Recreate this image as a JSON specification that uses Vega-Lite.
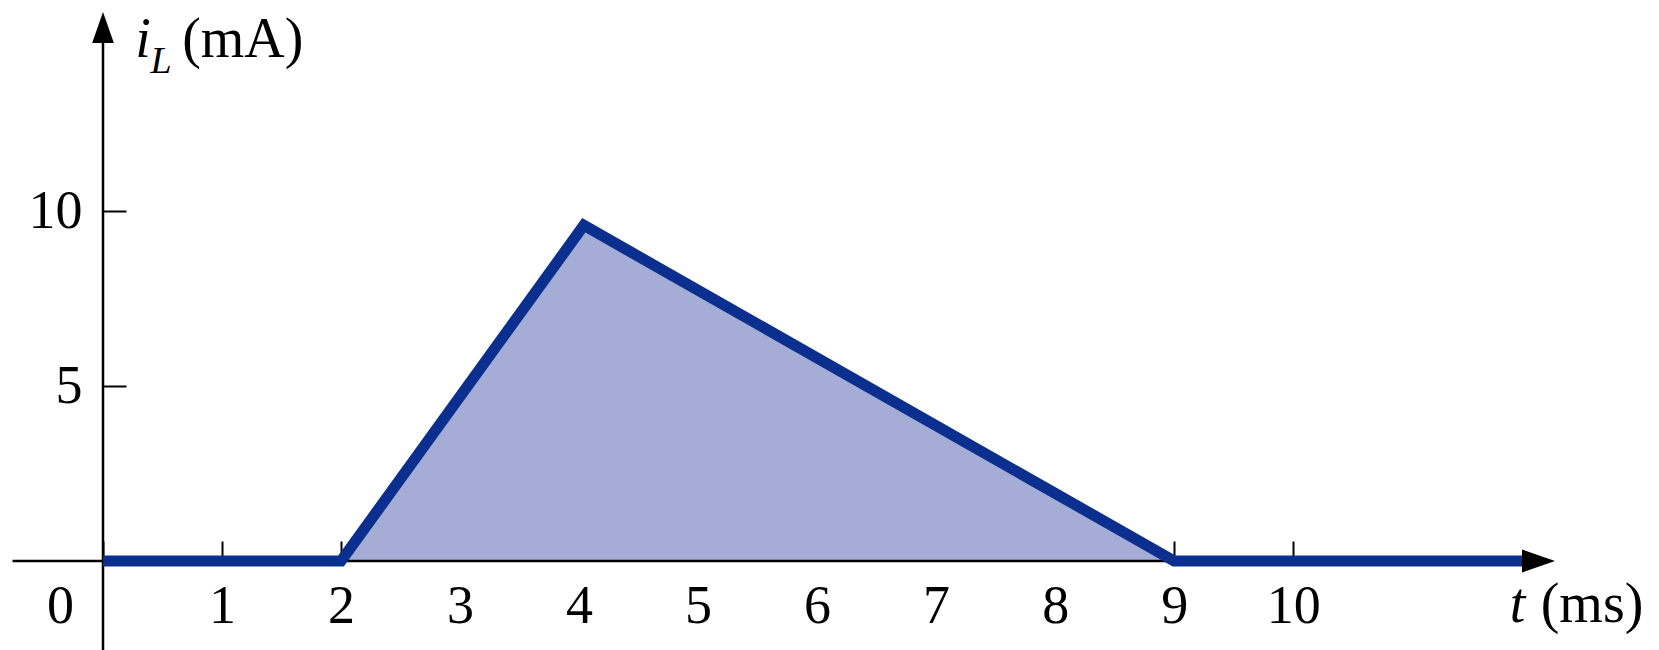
{
  "$schema": "https://vega.github.io/schema/vega-lite/v6.json",
  "autosize": {"type": "none"},
  "padding": {"left": 103, "top": 12, "right": 104, "bottom": 89},
  "width": 1452,
  "height": 549,
  "background": "white",
  "config": {"view": {"stroke": null}},
  "datasets": {
    "current": [
      {"t": 0, "i": 0},
      {"t": 2, "i": 0},
      {"t": 4.04, "i": 9.6},
      {"t": 9, "i": 0},
      {"t": 11.95, "i": 0}
    ],
    "pulse": [
      {"t": 2, "i": 0},
      {"t": 4.04, "i": 9.6},
      {"t": 9, "i": 0}
    ],
    "axes": [
      {"x1": -0.76, "x2": 12.0, "y1": 0, "y2": 0},
      {"x1": 0, "x2": 0, "y1": -2.6, "y2": 15.3}
    ]
  },
  "layer": [
    {
      "data": {"name": "pulse"},
      "mark": {"type": "area", "color": "#a5add6", "opacity": 1},
      "encoding": {
        "x": {
          "field": "t", "type": "quantitative",
          "scale": {"domain": [0, 12.2], "nice": false, "zero": false},
          "axis": {
            "values": [0, 1, 2, 3, 4, 5, 6, 7, 8, 9, 10],
            "format": "d",
            "domain": false, "grid": false, "title": null,
            "tickSize": -20, "tickWidth": 2, "tickColor": "black",
            "labelFont": "Liberation Serif", "labelFontSize": 54, "labelColor": "black",
            "labelPadding": 38, "labelFlush": false, "labelOverlap": false, "labelBound": false,
            "labelOffset": {"expr": "datum.value == 0 ? -43 : 0"}
          }
        },
        "y": {
          "field": "i", "type": "quantitative",
          "scale": {"domain": [0, 15.7], "nice": false, "zero": false},
          "axis": {
            "values": [5, 10],
            "format": "d",
            "domain": false, "grid": false, "title": null,
            "tickSize": -23, "tickWidth": 2, "tickColor": "black",
            "labelFont": "Liberation Serif", "labelFontSize": 54, "labelColor": "black",
            "labelPadding": 44, "labelOverlap": false, "labelBound": false
          }
        }
      }
    },
    {
      "data": {"name": "axes"},
      "mark": {"type": "rule", "color": "black", "strokeWidth": 2.5},
      "encoding": {
        "x": {"field": "x1", "type": "quantitative"},
        "x2": {"field": "x2"},
        "y": {"field": "y1", "type": "quantitative"},
        "y2": {"field": "y2"}
      }
    },
    {
      "data": {"name": "current"},
      "mark": {"type": "line", "color": "#0b2f8e", "strokeWidth": 11, "strokeCap": "butt", "strokeJoin": "miter"},
      "encoding": {
        "x": {"field": "t", "type": "quantitative"},
        "y": {"field": "i", "type": "quantitative"}
      }
    },
    {
      "data": {"values": [{"t": 12.2, "i": 0}]},
      "mark": {"type": "point", "shape": "M0,0L-1,-0.35L-1,0.35Z", "size": 4356, "filled": true, "color": "black", "opacity": 1, "strokeWidth": 0},
      "encoding": {
        "x": {"field": "t", "type": "quantitative"},
        "y": {"field": "i", "type": "quantitative"}
      }
    },
    {
      "data": {"values": [{"t": 0, "i": 15.7}]},
      "mark": {"type": "point", "shape": "M0,0L-0.35,1L0.35,1Z", "size": 3844, "filled": true, "color": "black", "opacity": 1, "strokeWidth": 0},
      "encoding": {
        "x": {"field": "t", "type": "quantitative"},
        "y": {"field": "i", "type": "quantitative"}
      }
    },
    {
      "data": {"values": [
        {"t": 0.27, "i": 14.41, "label": "i"},
        {"t": 11.82, "i": -1.74, "label": "t"}
      ]},
      "mark": {"type": "text", "font": "Liberation Serif", "fontStyle": "italic", "fontSize": 56, "align": "left", "baseline": "alphabetic", "color": "black"},
      "encoding": {
        "x": {"field": "t", "type": "quantitative"},
        "y": {"field": "i", "type": "quantitative"},
        "text": {"field": "label"}
      }
    },
    {
      "data": {"values": [{"t": 0.4, "i": 13.95, "label": "L"}]},
      "mark": {"type": "text", "font": "Liberation Serif", "fontStyle": "italic", "fontSize": 38, "align": "left", "baseline": "alphabetic", "color": "black"},
      "encoding": {
        "x": {"field": "t", "type": "quantitative"},
        "y": {"field": "i", "type": "quantitative"},
        "text": {"field": "label"}
      }
    },
    {
      "data": {"values": [
        {"t": 0.665, "i": 14.41, "label": "(mA)"},
        {"t": 12.08, "i": -1.74, "label": "(ms)"}
      ]},
      "mark": {"type": "text", "font": "Liberation Serif", "fontSize": 56, "align": "left", "baseline": "alphabetic", "color": "black"},
      "encoding": {
        "x": {"field": "t", "type": "quantitative"},
        "y": {"field": "i", "type": "quantitative"},
        "text": {"field": "label"}
      }
    }
  ]
}
